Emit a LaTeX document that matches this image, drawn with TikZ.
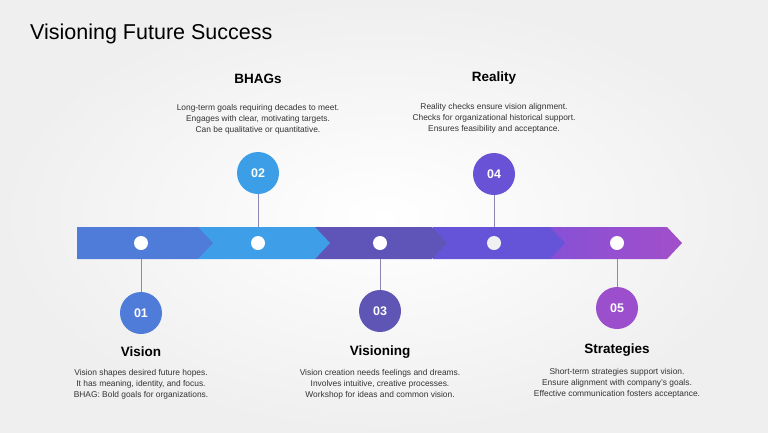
\documentclass[tikz,border=0pt]{standalone}
\usepackage{fontspec}
\setmainfont{Liberation Sans}

\definecolor{bgedge}{HTML}{EFEFEF}
\definecolor{segA}{HTML}{4F7BD9}
\definecolor{segB}{HTML}{3E9FE8}
\definecolor{segC}{HTML}{5F55B8}
\definecolor{segD}{HTML}{6654D8}
\definecolor{segEl}{HTML}{8750D6}
\definecolor{segEr}{HTML}{A24FC9}
\definecolor{numA}{HTML}{4F7BD9}
\definecolor{numB}{HTML}{3B9EE6}
\definecolor{numC}{HTML}{5F55B5}
\definecolor{numD}{HTML}{6A52D6}
\definecolor{numE}{HTML}{9B4FCC}
\definecolor{linkcol}{HTML}{8D87B5}
\definecolor{bodytext}{HTML}{333333}

\begin{document}
\begin{tikzpicture}[x=1pt,y=-1pt]
  \tikzstyle{every node}+=[inner sep=0pt]
  \tikzset{
    dot/.style={circle, fill=white, minimum size=14pt},
    numdisc/.style={circle, minimum size=42pt, text=white, font=\bfseries\fontsize{12.5}{14}\selectfont},
    headtxt/.style={font=\bfseries\fontsize{13.5}{15}\selectfont, text=black},
    desctxt/.style={align=center, text=bodytext, font=\fontsize{8.4}{11}\selectfont},
    link/.style={draw=linkcol, line width=0.7pt}
  }
  % background
  \shade[inner color=white, outer color=bgedge] (0,0) rectangle (768,432);
  \node[anchor=base west, font=\fontsize{21.5}{24}\selectfont] (title) at (30,39) {Visioning Future Success};

  % arrow bar, right to left
  \shade[left color=segEl, right color=segEr] (550,227) -- (667,227) -- (682,243) -- (667,259) -- (550,259) -- cycle;
  \fill[segD] (433,227) -- (550,227) -- (565,243) -- (550,259) -- (433,259) -- cycle;
  \fill[segC] (315,227) -- (432,227) -- (447,243) -- (432,259) -- (315,259) -- cycle;
  \fill[segB] (198,227) -- (315,227) -- (330,243) -- (315,259) -- (198,259) -- cycle;
  \fill[segA] (77,227) -- (198,227) -- (213,243) -- (198,259) -- (77,259) -- cycle;

  % bar edges
  \coordinate (e1) at (141,259);
  \coordinate (e2) at (258,227);
  \coordinate (e3) at (380,259);
  \coordinate (e4) at (494,227);
  \coordinate (e5) at (617,259);

  % dots
  \node[dot] (d1) at (141,243) {};
  \node[dot] (d2) at (258,243) {};
  \node[dot] (d3) at (380,243) {};
  \node[dot, fill=gray!12] (d4) at (494,243) {};
  \node[dot] (d5) at (617,243) {};

  % numbers
  \node[numdisc, fill=numA] (n1) at (141,313) {01};
  \node[numdisc, fill=numB] (n2) at (258,173) {02};
  \node[numdisc, fill=numC] (n3) at (380,311) {03};
  \node[numdisc, fill=numD] (n4) at (494,174) {04};
  \node[numdisc, fill=numE] (n5) at (617,308) {05};

  \draw[link] (e1) -- (n1);
  \draw[link] (n2) -- (e2);
  \draw[link] (e3) -- (n3);
  \draw[link] (n4) -- (e4);
  \draw[link] (e5) -- (n5);

  % headings
  \node[headtxt] (h1) at (141,352) {Vision};
  \node[headtxt] (h2) at (258,79) {BHAGs};
  \node[headtxt] (h3) at (380,352) {Visioning};
  \node[headtxt] (h4) at (494,78) {Reality};
  \node[headtxt] (h5) at (617,350) {Strategies};

  % descriptions
  \node[desctxt] (t1) at (141,384) {Vision shapes desired future hopes.\\It has meaning, identity, and focus.\\BHAG: Bold goals for organizations.};
  \node[desctxt] (t2) at (258,119) {Long-term goals requiring decades to meet.\\Engages with clear, motivating targets.\\Can be qualitative or quantitative.};
  \node[desctxt] (t3) at (380,384) {Vision creation needs feelings and dreams.\\Involves intuitive, creative processes.\\Workshop for ideas and common vision.};
  \node[desctxt] (t4) at (494,118) {Reality checks ensure vision alignment.\\Checks for organizational historical support.\\Ensures feasibility and acceptance.};
  \node[desctxt] (t5) at (617,383) {Short-term strategies support vision.\\Ensure alignment with company's goals.\\Effective communication fosters acceptance.};
\end{tikzpicture}
\end{document}
